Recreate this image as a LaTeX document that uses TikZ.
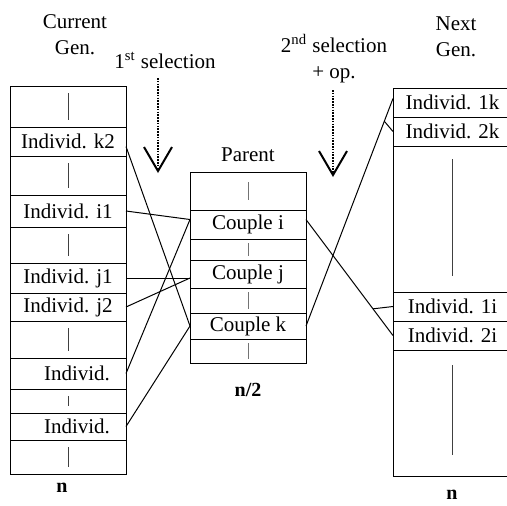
\documentclass[tikz,border=0pt]{standalone}
\usepackage{fontspec}
\setmainfont{Liberation Serif}
\usepackage{tikz}
\usetikzlibrary{arrows.meta,positioning}

\tikzset{
  cell/.style={draw, line width=0.5pt, inner sep=0pt, outer sep=0pt, anchor=north west},
  divtick/.style={line width=0.5pt, black!75},
  link/.style={line width=0.5pt},
  selarrow/.style={dash pattern=on 0.8pt off 0.6pt, line width=1.2pt, -{Straight Barb[length=12pt, width=14pt, line width=1pt]}}
}

\begin{document}
\begin{tikzpicture}[x=0.5pt, y=-0.5pt, font=\fontsize{10.5}{13}\selectfont]
\useasboundingbox (0,0) rectangle (507,505);

\foreach \top/\bot/\nm/\txt in {86/127/cg0/{}, 127/156/k2/{Individ. k2}, 156/195/cg1/{},
  195/227/i1/{Individ. i1}, 227/263/cg2/{}, 263/293/j1/{Individ. j1}, 293/321/j2/{Individ. j2},
  321/358/cg3/{}, 358/389/a1/{\hspace*{9pt}Individ.}, 389/413/cg4/{},
  413/440/a2/{\hspace*{9pt}Individ.}, 440/474/cg5/{}}
  \node[cell, minimum width=58pt, minimum height={(\bot-\top)*0.5pt}] (\nm) at (10,\top) {\txt};
\foreach \i in {0,...,5}
  \draw[divtick] ([yshift=-3.5pt]cg\i.north) -- ([yshift=3.5pt]cg\i.south);

\foreach \top/\bot/\nm/\txt in {172/210/pb0/{}, 210/239/ci/{Couple i}, 239/260/pb1/{},
  260/288/cj/{Couple j}, 288/313/pb2/{}, 313/339/ck/{Couple k}, 339/363/pb3/{}}
  \node[cell, minimum width=58pt, minimum height={(\bot-\top)*0.5pt}] (\nm) at (190,\top) {\txt};
\foreach \i/\m in {0/5,1/2,2/2,3/2}
  \draw[divtick, black!55] ([yshift=-\m pt]pb\i.north) -- ([yshift=\m pt]pb\i.south);

\foreach \top/\bot/\nm/\txt in {88/117/n1k/{Individ. 1k}, 117/146/n2k/{Individ. 2k}, 146/292/nb0/{},
  292/321/n1i/{Individ. 1i}, 321/350/n2i/{Individ. 2i}, 350/476/nb1/{}}
  \node[cell, minimum width=59.5pt, minimum height={(\bot-\top)*0.5pt}] (\nm) at (393,\top) {\txt};
\draw[divtick] ([yshift=-6.5pt]nb0.north) -- ([yshift=8pt]nb0.south);
\draw[divtick] ([yshift=-7.5pt]nb1.north) -- ([yshift=10.5pt]nb1.south);

\node[align=center] (curgen) at (75,35) {Current\\Gen.};
\node[align=center] (nextgen) at (456,37) {Next\\Gen.};
\node (sel1) at (165,60) {1\textsuperscript{st} selection};
\node[align=center] (sel2) at (334,59) {2\textsuperscript{nd} selection\\+ op.};
\node (par) at (248,155) {Parent};
\node[font=\bfseries] (nl) at (62,488) {n};
\node[font=\bfseries] (nm) at (248,390) {n/2};
\node[font=\bfseries] (nr) at (452,495) {n};

\coordinate (s1from) at (158,78);
\coordinate (s1to) at (158,173);
\coordinate (s2from) at (333,90);
\coordinate (s2to) at (333,177);
\draw[selarrow] (s1from) -- (s1to);
\draw[selarrow] (s2from) -- (s2to);

\draw[link] ([yshift=-2.5pt]k2.east) -- (ck.west);
\draw[link] (i1.east) -- ([yshift=2.5pt]ci.west);
\draw[link] (j1.east) -- ([yshift=-2pt]cj.west);
\draw[link] (j2.east) -- ([yshift=-2pt]cj.west);
\draw[link] (a1.east) -- ([yshift=2.5pt]ci.west);
\draw[link] (a2.east) -- (ck.west);
\draw[link] ([yshift=2.5pt]ci.east) -- coordinate[pos=0.77] (ti) (n2i.west);
\draw[link] (ti) -- (n1i.west);
\draw[link] (ck.east) -- coordinate[pos=0.9] (tk) ([yshift=2pt]n1k.west);
\draw[link] (tk) -- (n2k.west);
\end{tikzpicture}
\end{document}
